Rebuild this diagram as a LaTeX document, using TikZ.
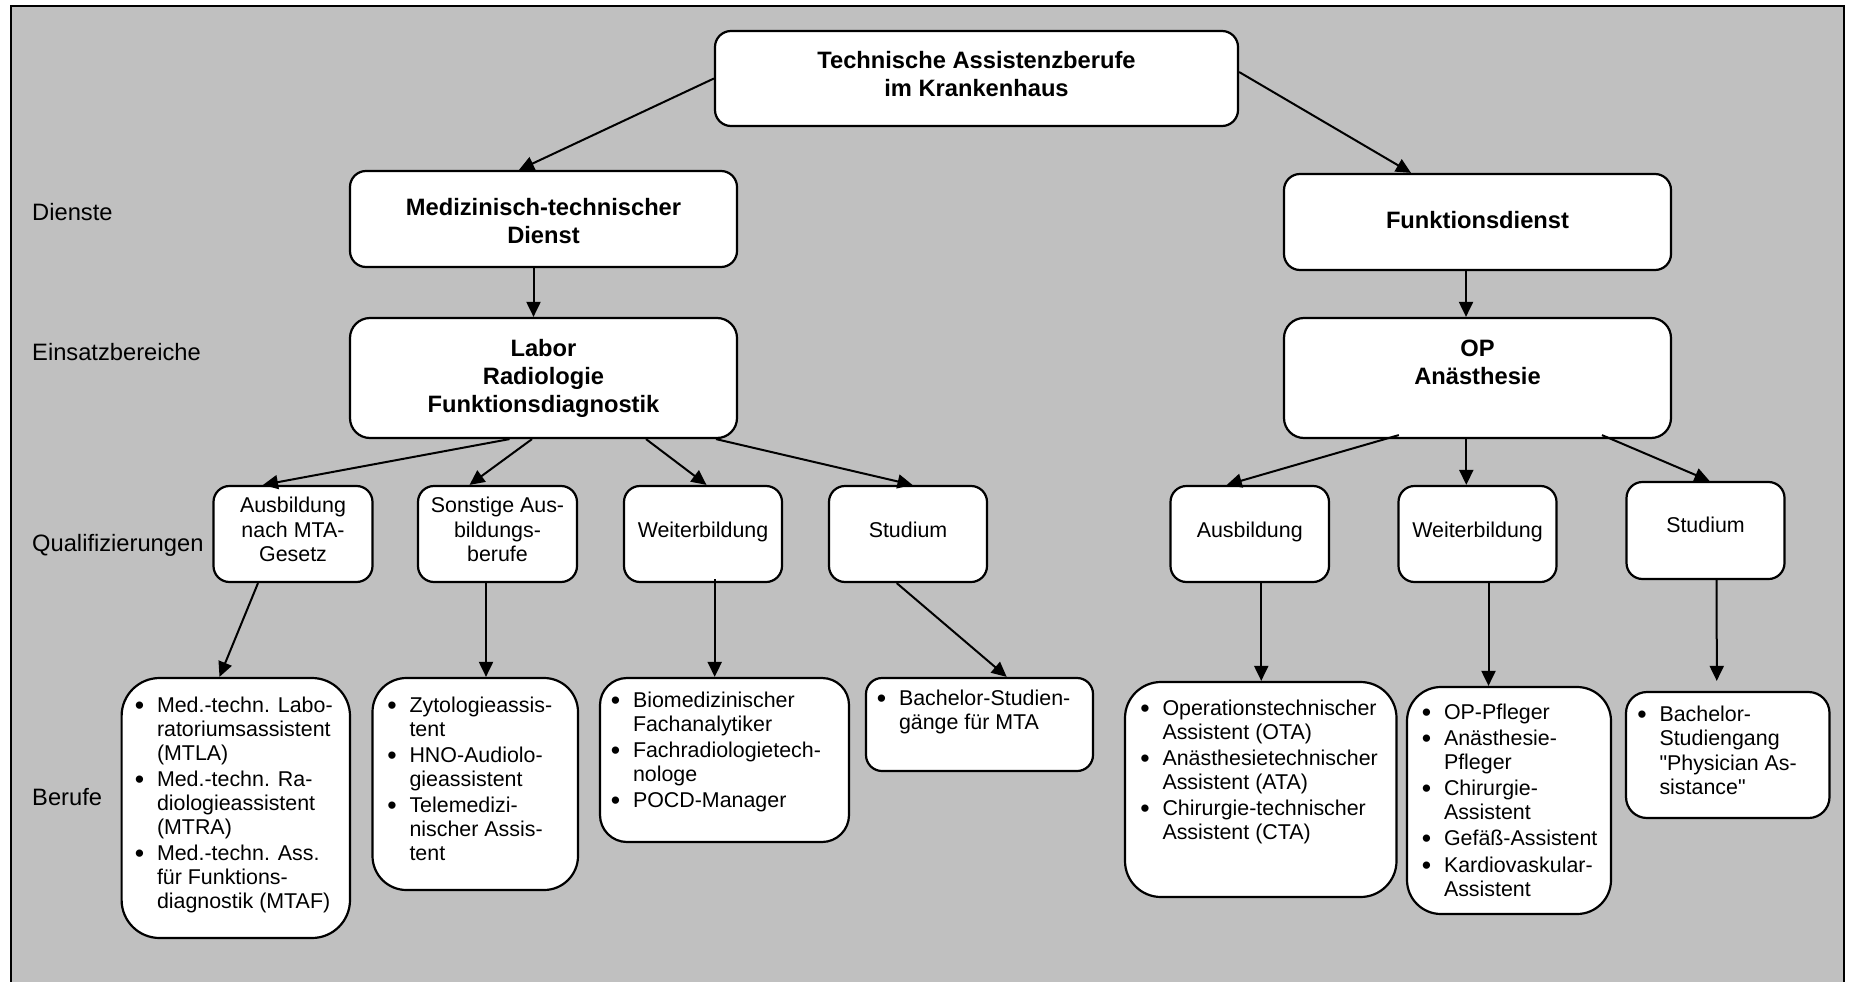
\documentclass[tikz,border=0pt]{standalone}
\usepackage{fontspec}
\usepackage{graphicx}
\setmainfont{Liberation Sans}
\usetikzlibrary{arrows.meta}
\definecolor{bg}{RGB}{192,192,192}
\newcommand\ctab[1]{\begin{tabular}[t]{@{}c@{}}#1\end{tabular}}
\newcommand\btab[1]{\begin{tabular}[t]{@{}l@{}l@{}}#1\end{tabular}}
\newcommand\bu{\makebox[21.5pt][l]{\hspace{-0.6pt}\raisebox{-1.8pt}{\scalebox{1.25}{\textbullet}}}}
\newcommand\nx{\\[2.5pt]}
\tikzset{
  rbox/.style={draw, line width=2.2pt, fill=white, inner sep=0pt, rounded corners=#1},
  arr/.style={line width=2pt, -{Triangle[length=15pt,width=14pt]}},
  hd/.style={font=\fontsize{23.7}{27.8}\selectfont\bfseries, inner sep=0pt, anchor=base},
  qt/.style={font=\fontsize{21.4}{24.6}\selectfont, inner sep=0pt, anchor=base},
  bt/.style={font=\fontsize{21.4}{23.8}\selectfont, inner sep=0pt, anchor=base west},
  side/.style={font=\fontsize{23.7}{27}\selectfont, inner sep=0pt, anchor=base west},
}
\begin{document}
\begin{tikzpicture}[x=1pt,y=-1pt]
\useasboundingbox (0,0) rectangle (1858,982);
\fill[white] (0,0) rectangle (1858,982);
\fill[bg] (11,6) rectangle (1844,990);
\draw[line width=2pt] (11,990) -- (11,6) -- (1844,6) -- (1844,990);

% side labels
\node[side] (lDienste) at (32,220.5) {Dienste};
\node[side] (lEinsatz) at (32,360.5) {Einsatzbereiche};
\node[side] (lQuali) at (32,551.5) {Qualifizierungen};
\node[side] (lBerufe) at (32,805.5) {Berufe};

% level 0-2 boxes
\node[rbox=16pt, minimum width=523pt, minimum height=95pt] (top) at (976.5,78.5) {};
\node[rbox=16pt, minimum width=387pt, minimum height=96pt] (med) at (543.5,219) {};
\node[rbox=16pt, minimum width=387pt, minimum height=96pt] (fd) at (1477.5,222) {};
\node[rbox=20pt, minimum width=387pt, minimum height=120pt] (lab) at (543.5,378) {};
\node[rbox=20pt, minimum width=387pt, minimum height=120pt] (op) at (1477.5,378) {};

\node[hd] (topT) at (976.5,68.5) {\ctab{Technische Assistenzberufe\\im Krankenhaus}};
\node[hd] (medT) at (543.5,215.5) {\ctab{Medizinisch-technischer\\Dienst}};
\node[hd] (fdT) at (1477.5,228.5) {Funktionsdienst};
\node[hd] (labT) at (543.5,356.5) {\ctab{Labor\\Radiologie\\Funktionsdiagnostik}};
\node[hd] (opT) at (1477.5,356.5) {\ctab{OP\\Anästhesie}};

% qualification boxes
\node[rbox=16pt, minimum width=159pt, minimum height=96pt] (qa) at (293,534) {};
\node[rbox=16pt, minimum width=159pt, minimum height=96pt] (qb) at (497.5,534) {};
\node[rbox=16pt, minimum width=158pt, minimum height=96pt] (qc) at (703,534) {};
\node[rbox=16pt, minimum width=158pt, minimum height=96pt] (qd) at (908,534) {};
\node[rbox=16pt, minimum width=158.5pt, minimum height=96pt] (qe) at (1249.75,534) {};
\node[rbox=16pt, minimum width=158pt, minimum height=96pt] (qf) at (1477.5,534) {};
\node[rbox=16pt, minimum width=158pt, minimum height=97pt] (qg) at (1705.5,530.5) {};

\node[qt] (qaT) at (293,512.7) {\ctab{Ausbildung\\nach MTA-\\Gesetz}};
\node[qt] (qbT) at (497.5,512.7) {\ctab{Sonstige Aus-\\bildungs-\\berufe}};
\node[qt] (qcT) at (703,537.7) {Weiterbildung};
\node[qt] (qdT) at (908,537.7) {Studium};
\node[qt] (qeT) at (1249.75,537.7) {Ausbildung};
\node[qt] (qfT) at (1477.5,537.7) {Weiterbildung};
\node[qt] (qgT) at (1705.5,532.7) {Studium};

% job boxes
\node[rbox=38pt, minimum width=228.4pt, minimum height=260pt] (b1) at (235.8,808) {};
\node[rbox=34pt, minimum width=205.5pt, minimum height=212pt] (b2) at (475.25,784) {};
\node[rbox=27pt, minimum width=249pt, minimum height=164pt] (b3) at (724.5,760) {};
\node[rbox=16pt, minimum width=227pt, minimum height=93pt] (b4) at (979.5,724.5) {};
\node[rbox=36pt, minimum width=271.5pt, minimum height=215pt] (b5) at (1260.75,789.5) {};
\node[rbox=34pt, minimum width=204pt, minimum height=227pt] (b6) at (1509,800.5) {};
\node[rbox=21pt, minimum width=203.5pt, minimum height=126pt] (b7) at (1727.75,755) {};

\node[bt] (b1T) at (135.3,712.7) {\btab{\bu & Med.-techn. Labo-\\ & ratoriumsassistent\\ & (MTLA)\nx
 \bu & Med.-techn. Ra-\\ & diologieassistent\\ & (MTRA)\nx
 \bu & Med.-techn. Ass.\\ & für Funktions-\\ & diagnostik (MTAF)}};
\node[bt] (b2T) at (387.8,712.7) {\btab{\bu & Zytologieassis-\\ & tent\nx
 \bu & HNO-Audiolo-\\ & gieassistent\nx
 \bu & Telemedizi-\\ & nischer Assis-\\ & tent}};
\node[bt] (b3T) at (611.3,707.7) {\btab{\bu & Biomedizinischer\\ & Fachanalytiker\nx
 \bu & Fachradiologietech-\\ & nologe\nx
 \bu & POCD-Manager}};
\node[bt] (b4T) at (877.3,705.7) {\btab{\bu & Bachelor-Studien-\\ & gänge für MTA}};
\node[bt] (b5T) at (1140.8,715.7) {\btab{\bu & Operationstechnischer\\ & Assistent (OTA)\nx
 \bu & Anästhesietechnischer\\ & Assistent (ATA)\nx
 \bu & Chirurgie-technischer\\ & Assistent (CTA)}};
\node[bt] (b6T) at (1422.3,719.4) {\btab{\bu & OP-Pfleger\nx
 \bu & Anästhesie-\\ & Pfleger\nx
 \bu & Chirurgie-\\ & Assistent\nx
 \bu & Gefäß-Assistent\nx
 \bu & Kardiovaskular-\\ & Assistent}};
\node[bt, font=\fontsize{21.4}{24.2}\selectfont] (b7T) at (1637.8,721.7) {\btab{\bu & Bachelor-\\ & Studiengang\\ & \textquotedbl Physician As-\\ & sistance\textquotedbl}};

% connectors
\draw[arr] (top.west) -- ([xshift=-24.5pt]med.north);
\draw[arr] ([yshift=6.5pt]top.east) -- ([xshift=-66.5pt]fd.north);
\draw[arr] ([xshift=-10pt]med.south) -- ([xshift=-10pt]lab.north);
\draw[arr] ([xshift=-11.5pt]fd.south) -- ([xshift=-11.5pt]op.north);

\draw[arr] ([xshift=-34pt]lab.south) -- ([xshift=-30pt]qa.north);
\draw[arr] ([xshift=-11.5pt]lab.south) -- ([xshift=-28pt]qb.north);
\draw[arr] ([xshift=102.5pt]lab.south) -- ([xshift=3.5pt]qc.north);
\draw[arr] ([xshift=172.5pt]lab.south) -- ([xshift=4.5pt]qd.north);

\draw[arr] ([xshift=-78.7pt,yshift=4pt]op.south) -- ([xshift=-23pt]qe.north);
\draw[arr] ([xshift=-11.2pt]op.south) -- ([xshift=-11.2pt]qf.north);
\draw[arr] ([xshift=124.5pt,yshift=4pt]op.south) -- ([xshift=4pt]qg.north);

\draw[arr] ([xshift=-35pt]qa.south) -- ([xshift=-16.3pt]b1.north);
\draw[arr] ([xshift=-11.5pt]qb.south) -- ([xshift=10.75pt]b2.north);
\draw[arr] ([xshift=11.7pt,yshift=4pt]qc.south) -- ([xshift=-9.8pt]b3.north);
\draw[arr] ([xshift=-11.3pt]qd.south) -- ([xshift=27.2pt]b4.north);
\draw[arr] ([xshift=11.5pt]qe.south) -- ([xshift=0.5pt]b5.north);
\draw[arr] ([xshift=11pt]qf.south) -- ([xshift=-20.5pt]b6.north);
\draw[arr] ([xshift=11.2pt]qg.south) -- ([xshift=-11pt,yshift=10pt]b7.north);
\end{tikzpicture}
\end{document}
